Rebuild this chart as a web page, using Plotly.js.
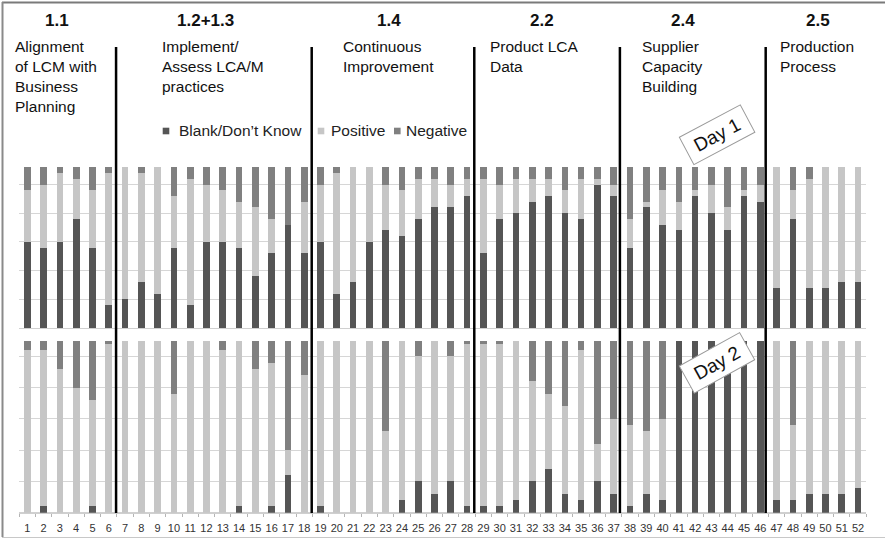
<!DOCTYPE html>
<html>
<head>
<meta charset="utf-8">
<script src="https://cdn.plot.ly/plotly-3.0.1.min.js"></script>
<style>html,body{margin:0;padding:0;background:#fff;}#chart{width:885px;height:541px;}</style>
</head>
<body>
<div id="chart"></div>
<script>
// ---- Data ----
const questions = Array.from({length: 52}, (_, i) => String(i + 1));

const day1Blank    = [15,14,15,19,14,4, 5,8,6,14,4,15,15,14,9,13,18,13, 15,6,8,15,17,16,19,21,21,23, 13,19,20,22,23,20,19,25,23, 14,21,18,17,23,20,17,23,22, 7,19,7,7,8,8];
const day1Positive = [9,11,12,7,10,23, 23,19,22,9,22,10,9,8,12,6,0,9, 10,21,20,13,8,8,7,5,4,3, 13,6,6,4,3,4,7,1,2, 5,1,6,5,1,5,4,1,3, 21,5,19,21,20,20];
const day1Negative = [4,3,1,2,4,1, 0,1,0,5,2,3,4,6,7,9,10,6, 3,1,0,0,3,4,2,2,3,2, 2,3,2,2,2,4,2,2,3, 9,6,4,6,4,3,7,4,3, 0,4,2,0,0,0];

const day2Blank    = [0,1,0,0,1,0, 0,0,0,0,0,0,0,1,0,1,6,0, 1,0,0,0,0,2,5,3,5,1, 1,1,2,5,7,3,2,5,3, 1,3,2,27.5,27.5,27.5,27.5,27.5,27.5, 2,2,3,3,3,4];
const day2Positive = [26,25,23,20,17,27, 27.5,27.5,27.5,19,27.5,27.5,26,26.5,23,23,4,22, 26.5,27.5,27.5,27.5,13,25.5,20,24.5,20,26, 26,26,25.5,16,12,14,24,6,12, 13,10,13,0,0,0,0,0,0, 25.5,12,24.5,24.5,24.5,23.5];
const day2Negative = [1.5,1.5,4.5,7.5,9.5,0.5, 0,0,0,8.5,0,0,1.5,0,4.5,3.5,17.5,5.5, 0,0,0,0,14.5,0,2.5,0,2.5,0.5, 0.5,0.5,0,6.5,8.5,10.5,1.5,16.5,12.5, 13.5,14.5,12.5,0,0,0,0,0,0, 0,13.5,0,0,0,0];

const seriesNames = ["Blank/Don\u2019t Know", "Positive", "Negative"];
const groupCodes = ["1.1", "1.2+1.3", "1.4", "2.2", "2.4", "2.5"];
const groupNames = ["Alignment<br>of LCM with<br>Business<br>Planning", "Implement/<br>Assess LCA/M<br>practices", "Continuous<br>Improvement", "Product LCA<br>Data", "Supplier<br>Capacity<br>Building", "Production<br>Process"];
const dayLabels = ["Day 1", "Day 2"];

// ---- Styling ----
const colors = ["#555555", "#c6c6c6", "#808080"];
const W = 885, H = 541;
const px = x => x / W;
const py = y => 1 - y / H;
const FONT = "Liberation Sans, Arial, Helvetica, sans-serif";

const traces = [];
[[day1Blank, day1Positive, day1Negative, 'y'], [day2Blank, day2Positive, day2Negative, 'y2']].forEach(([b, p, n, ya]) => {
  [b, p, n].forEach((vals, k) => {
    traces.push({
      type: 'bar', x: questions, y: vals, name: seriesNames[k],
      xaxis: 'x', yaxis: ya, marker: {color: colors[k], line: {width: 0}},
      showlegend: false, hoverinfo: 'skip'
    });
  });
});

const annotations = [];
const headerX = [56.7, 205, 388.5, 541.7, 683.3, 818.3];
const descX = [13, 159.5, 340.5, 488, 639.5, 778];
groupCodes.forEach((c, i) => {
  annotations.push({xref: 'paper', yref: 'paper', x: px(headerX[i]), y: py(20.7), xanchor: 'center', yanchor: 'middle',
    text: '<b>' + c + '</b>', showarrow: false, font: {family: FONT, size: 17, color: '#111'}});
  annotations.push({xref: 'paper', yref: 'paper', x: px(descX[i]), y: py(35.5), xanchor: 'left', yanchor: 'top', align: 'left',
    text: groupNames[i], showarrow: false, font: {family: FONT, size: 15.5, color: '#111'}});
});

// legend (text + squares)
const legTextX = [176.5, 328.5, 404];
const legBoxX = [166, 321, 397.3];
const legY = 131;
seriesNames.forEach((s, i) => {
  annotations.push({xref: 'paper', yref: 'paper', x: px(legTextX[i]), y: py(legY), xanchor: 'left', yanchor: 'middle',
    text: s, showarrow: false, font: {family: FONT, size: 15.5, color: '#222'}});
});

// Day boxes
const dayPos = [[716.6, 134.7, -28], [716.7, 363, -29]];
dayLabels.forEach((d, i) => {
  annotations.push({xref: 'paper', yref: 'paper', x: px(dayPos[i][0]), y: py(dayPos[i][1]), xanchor: 'center', yanchor: 'middle',
    text: d, showarrow: false, textangle: dayPos[i][2], font: {family: FONT, size: 19, color: '#111'},
    bgcolor: '#ffffff', bordercolor: '#9a9a9a', borderwidth: 1, borderpad: 4, width: 60, height: 22});
});

const shapes = [];
// separators (category index positions)
[5.45, 17.46, 27.44, 36.38, 45.33].forEach(xv => {
  shapes.push({type: 'line', xref: 'x', yref: 'paper', x0: xv, x1: xv, y0: py(513), y1: py(47),
    line: {color: '#000', width: 2.5}, layer: 'above'});
});
// legend squares
legBoxX.forEach((xc, i) => {
  shapes.push({type: 'rect', xref: 'paper', yref: 'paper', x0: px(xc - 3.3), x1: px(xc + 3.3), y0: py(legY + 3.3), y1: py(legY - 3.3),
    fillcolor: colors[i], line: {width: 0}});
});
// frame
shapes.push({type: 'line', xref: 'paper', yref: 'paper', x0: px(2), x1: 1, y0: py(2.5), y1: py(2.5), line: {color: '#7a7a7a', width: 2}});
shapes.push({type: 'line', xref: 'paper', yref: 'paper', x0: px(2.5), x1: px(2.5), y0: py(537), y1: py(2), line: {color: '#8a8a8a', width: 2}});
shapes.push({type: 'line', xref: 'paper', yref: 'paper', x0: px(2), x1: 1, y0: py(537.5), y1: py(537.5), line: {color: '#c8c8c8', width: 1}});

const yCommon = {showticklabels: false, ticks: '', showgrid: true, gridcolor: '#d6d6d6', gridwidth: 1,
  zeroline: true, zerolinecolor: '#d0d0d0', zerolinewidth: 1, dtick: 5, tick0: 0, fixedrange: true, showline: false};

const layout = {
  width: W, height: H, margin: {l: 0, r: 0, t: 0, b: 0},
  paper_bgcolor: '#fff', plot_bgcolor: 'rgba(0,0,0,0)',
  barmode: 'stack', bargap: 0.59, showlegend: false,
  font: {family: FONT, color: '#111'},
  xaxis: {type: 'category', categoryorder: 'array', categoryarray: questions, range: [-0.5, 51.5],
    domain: [px(19.15), px(866.2)], anchor: 'y2', tickson: 'boundaries', ticks: 'outside', ticklen: 3,
    tickcolor: '#b5b5b5', tickwidth: 1, showline: true, linecolor: '#cfcfcf', linewidth: 1, showgrid: false,
    tickangle: 0, automargin: false, ticklabelstandoff: 5,
    tickfont: {family: FONT, size: 11, color: '#333'}, fixedrange: true},
  yaxis: Object.assign({}, yCommon, {domain: [py(328), py(155.8)], range: [0, 30], anchor: 'x'}),
  yaxis2: Object.assign({}, yCommon, {domain: [py(512.7), py(331.3)], range: [0, 29], anchor: 'x'}),
  annotations: annotations, shapes: shapes
};

Plotly.newPlot('chart', traces, layout, {displayModeBar: false, staticPlot: true});
</script>
</body>
</html>
